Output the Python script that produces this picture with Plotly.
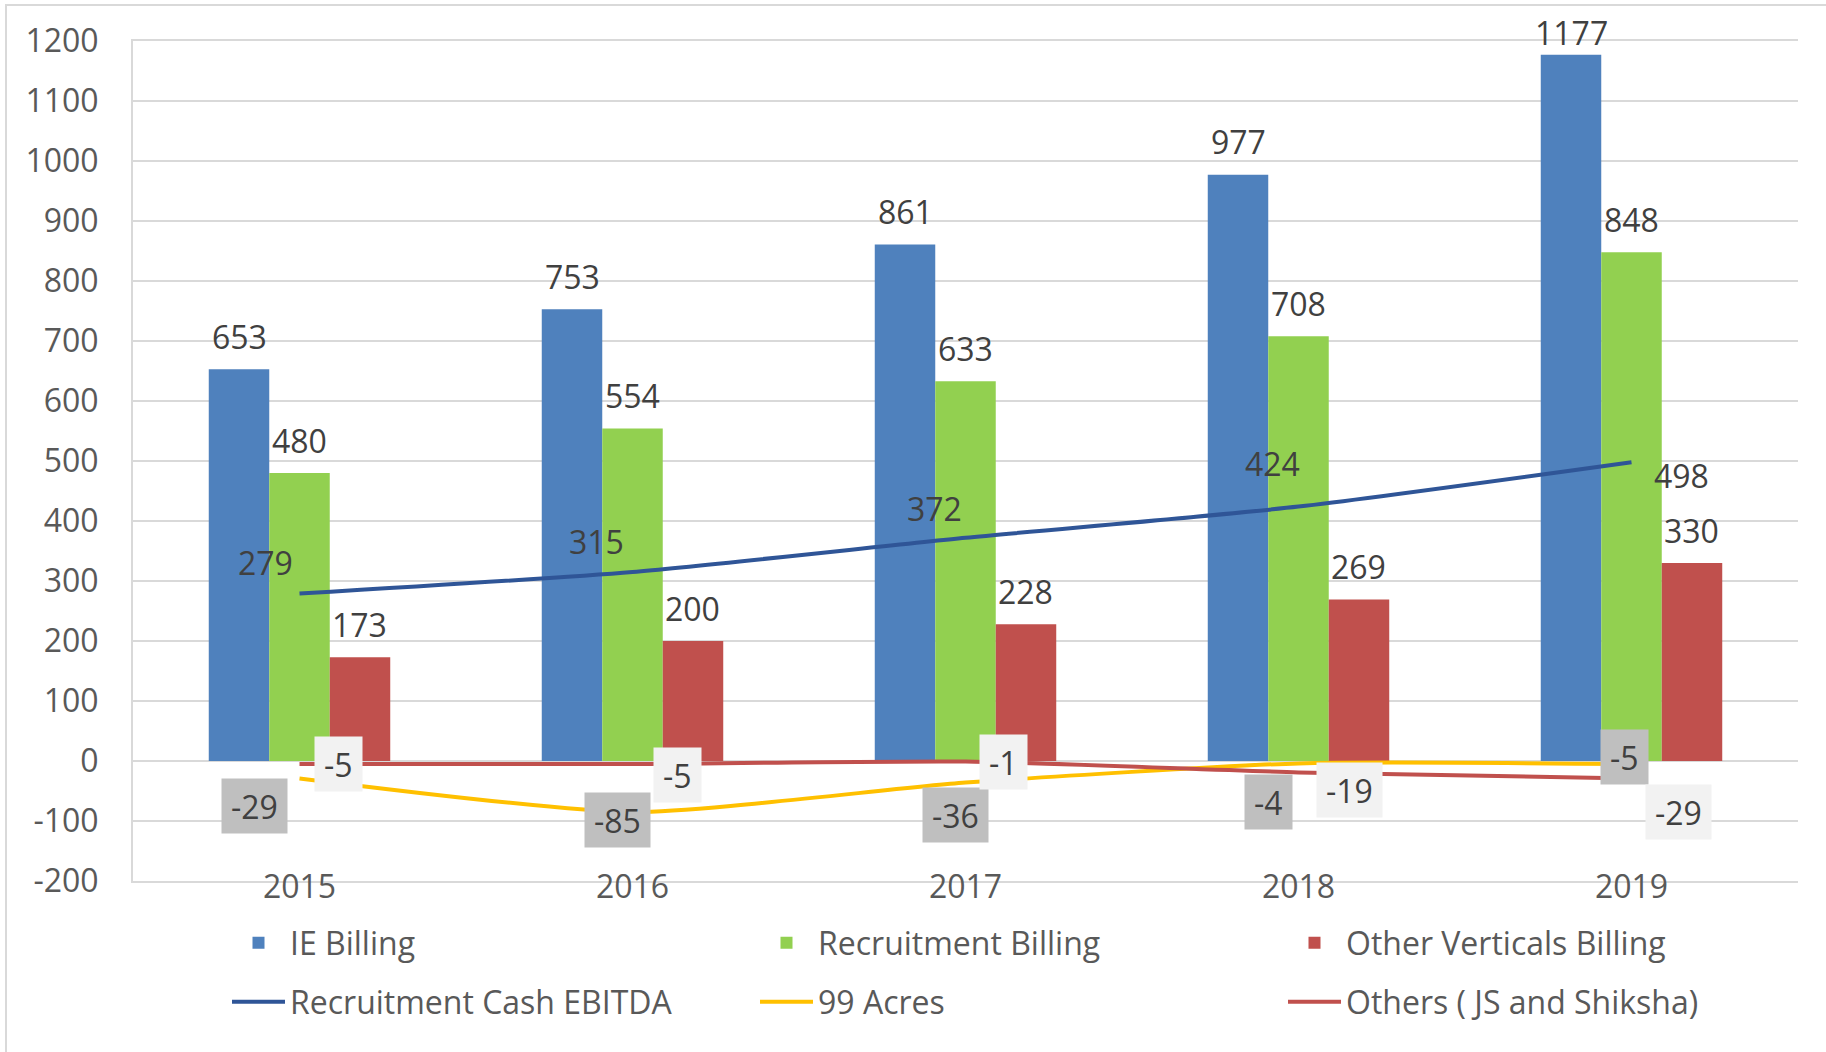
import plotly.graph_objects as go

# ---------------- data ----------------
years = ["2015", "2016", "2017", "2018", "2019"]
ie_billing = [653, 753, 861, 977, 1177]
recruitment_billing = [480, 554, 633, 708, 848]
other_verticals_billing = [173, 200, 228, 269, 330]
recruitment_cash_ebitda = [279, 315, 372, 424, 498]
acres_99 = [-29, -85, -36, -4, -5]
others_js_shiksha = [-5, -5, -1, -19, -29]
y_tick_values = list(range(-200, 1201, 100))
y_tick_labels = [str(v) for v in y_tick_values]

# ---------------- layout constants ----------------
W, H = 1826, 1052
ML, MR, MT, MB = 133, 28, 41, 171
PLOT_W = W - ML - MR
PLOT_H = H - MT - MB
Y_MIN, Y_MAX = -200, 1200
BARGAP = 0.455
FONT = "Open Sans"
FS = 32
AXIS_TXT = "#595959"
LABEL_TXT = "#404040"
GRID = "#D9D9D9"

# manual label offsets (pixels; +x right, +y down) as placed in the original chart
ebitda_label_offsets = [(-34, -31), (-36, -31), (-31, -29), (-26, -43), (50, 13)]
acres_label_offsets = [(-45, 28), (-15, 8), (-10, 32), (-30, 39), (-7, -7)]
others_label_offsets = [(39, 0), (45, 11), (38, 0), (51, 18), (47, 34)]

PX_PER_UNIT = PLOT_H / (Y_MAX - Y_MIN)
CAT_PX = PLOT_W / len(years)
BAR_PX = CAT_PX * (1 - BARGAP) / 3

fig = go.Figure()

bar_series = [
    ("IE Billing", ie_billing, "#4F81BD"),
    ("Recruitment Billing", recruitment_billing, "#92D050"),
    ("Other Verticals Billing", other_verticals_billing, "#C0504D"),
]
for name, vals, col in bar_series:
    fig.add_trace(go.Bar(
        x=years, y=vals, name=name, marker=dict(color=col, line=dict(width=0)),
        legend="legend",
    ))

line_series = [
    ("Recruitment Cash EBITDA", recruitment_cash_ebitda, "#2F5597"),
    ("99 Acres", acres_99, "#FFC000"),
    ("Others ( JS and Shiksha)", others_js_shiksha, "#C0504D"),
]
for name, vals, col in line_series:
    fig.add_trace(go.Scatter(
        x=years, y=vals, name=name, mode="lines",
        line=dict(color=col, width=4, shape="spline", smoothing=0.6),
        legend="legend2",
    ))

annotations = []
# bar value labels (x given as category index)
for i, (name, vals, col) in enumerate(bar_series):
    shift = (i - 1) * BAR_PX
    for xi, v in enumerate(vals):
        top_px = MT + (Y_MAX - v) * PX_PER_UNIT
        center_px = max(top_px - 33, MT - 9)
        annotations.append(dict(
            x=xi, y=v, xref="x", yref="y", text=str(v), showarrow=False,
            xshift=shift, yshift=top_px - center_px,
            xanchor="center", yanchor="middle",
            font=dict(family=FONT, size=FS, color=LABEL_TXT),
        ))

# line value labels
for vals, offs, bg in [
    (recruitment_cash_ebitda, ebitda_label_offsets, None),
    (acres_99, acres_label_offsets, "#BFBFBF"),
    (others_js_shiksha, others_label_offsets, "#F2F2F2"),
]:
    for xi, (v, (dx, dy)) in enumerate(zip(vals, offs)):
        a = dict(
            x=xi, y=v, xref="x", yref="y", text=str(v), showarrow=False,
            xshift=dx, yshift=-dy, xanchor="center", yanchor="middle",
            font=dict(family=FONT, size=FS, color=LABEL_TXT),
        )
        if bg:
            a.update(bgcolor=bg, borderpad=9, height=36)
        annotations.append(a)

legend_common = dict(
    orientation="h", xanchor="left", yanchor="middle",
    entrywidth=460, entrywidthmode="pixels", itemwidth=53,
    bgcolor="rgba(0,0,0,0)", font=dict(family=FONT, size=FS, color=AXIS_TXT),
    traceorder="normal",
)

fig.update_layout(
    width=W, height=H,
    margin=dict(l=ML, r=MR, t=MT, b=MB, autoexpand=False),
    paper_bgcolor="white", plot_bgcolor="white",
    barmode="group", bargap=BARGAP, bargroupgap=0,
    font=dict(family=FONT, size=FS, color=AXIS_TXT),
    annotations=annotations,
    xaxis=dict(
        type="category", range=[-0.5, len(years) - 0.5],
        showgrid=False, zeroline=False,
        showline=True, mirror=True, linecolor=GRID, linewidth=2,
        ticks="", ticklabelstandoff=-23,
        tickfont=dict(family=FONT, size=FS, color=AXIS_TXT),
    ),
    xaxis2=dict(
        overlaying="x", anchor="free", position=(0 - Y_MIN) / (Y_MAX - Y_MIN),
        type="linear", range=[-0.5, len(years) - 0.5],
        tickvals=[i - 0.5 for i in range(len(years) + 1)],
        ticks="outside", ticklen=12, tickwidth=2, tickcolor=GRID,
        showticklabels=False, showgrid=False, zeroline=False,
        showline=True, linecolor=GRID, linewidth=2,
    ),
    yaxis=dict(
        range=[Y_MIN, Y_MAX], tickvals=y_tick_values, ticktext=y_tick_labels,
        showgrid=True, gridcolor=GRID, gridwidth=1.5,
        zeroline=False, showline=True, linecolor=GRID, linewidth=2,
        ticks="", ticklabelstandoff=26,
        tickfont=dict(family=FONT, size=FS, color=AXIS_TXT),
    ),
    legend=dict(legend_common, x=(227 - ML) / PLOT_W, y=(MT + PLOT_H - 943) / PLOT_H),
    legend2=dict(legend_common, x=(227 - ML) / PLOT_W, y=(MT + PLOT_H - 1002) / PLOT_H),
    shapes=[dict(
        type="rect", xref="paper", yref="paper",
        x0=(6 - ML) / PLOT_W, x1=(W + 10 - ML) / PLOT_W,
        y0=(MT + PLOT_H - (H + 10)) / PLOT_H, y1=(MT + PLOT_H - 5) / PLOT_H,
        line=dict(color=GRID, width=2), fillcolor="rgba(0,0,0,0)", layer="below",
    )],
    hovermode=False,
)

fig.write_html(
    "out.html",
    config={"displayModeBar": False},
    post_script="document.body.style.margin='0';document.body.style.overflow='hidden';",
)
